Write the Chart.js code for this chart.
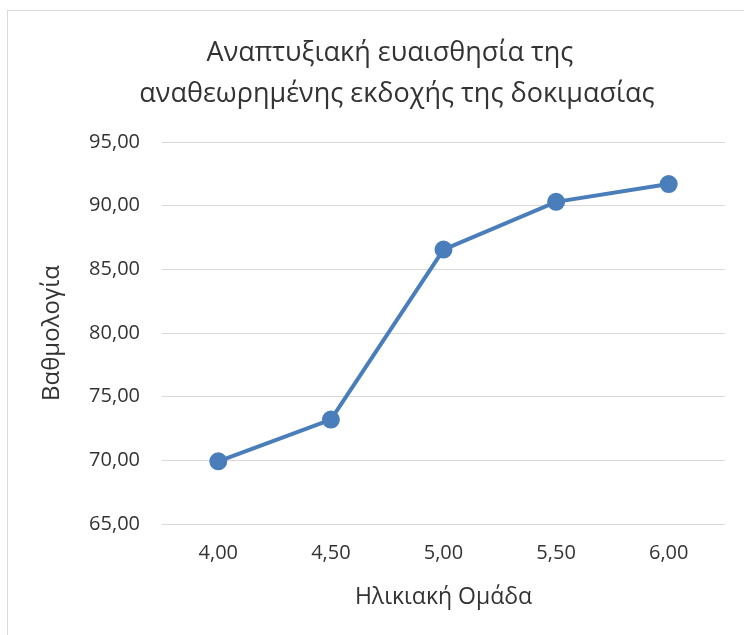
<!DOCTYPE html>
<html>
<head>
<meta charset="utf-8">
<script src="https://cdn.jsdelivr.net/npm/chart.js@4"></script>
<style>
  html, body { margin: 0; padding: 0; background: #fff; }
  #wrap { width: 744px; height: 635px; }
</style>
</head>
<body>
<div id="wrap"><canvas id="chart" width="744" height="635"></canvas></div>
<script>
const categories = ["4,00", "4,50", "5,00", "5,50", "6,00"];
const scores = [69.92, 73.2, 86.55, 90.3, 91.7];
const titleLines = ["Αναπτυξιακή ευαισθησία της", "αναθεωρημένης εκδοχής της δοκιμασίας"];
const xTitle = "Ηλικιακή Ομάδα";
const yTitle = "Βαθμολογία";

const FONT = "'Open Sans', 'Noto Sans', sans-serif";
const TEXT = "#333333";

// light frame + centred two line title, like the spreadsheet chart box
const framePlugin = {
  id: "frame",
  beforeDraw: (chart) => {
    const ctx = chart.ctx;
    ctx.save();
    ctx.fillStyle = "#fff";
    ctx.fillRect(0, 0, chart.width, chart.height);
    ctx.strokeStyle = "#d9d9d9";
    ctx.lineWidth = 1;
    ctx.strokeRect(7.5, 10.5, chart.width, chart.height);
    ctx.restore();
  },
  afterDraw: (chart) => {
    const ctx = chart.ctx;
    ctx.save();
    ctx.fillStyle = TEXT;
    ctx.font = "27px " + FONT;
    ctx.textAlign = "center";
    ctx.textBaseline = "alphabetic";
    ctx.fillText(titleLines[0], 390, 61);
    ctx.fillText(titleLines[1], 397, 102);
    ctx.restore();
  },
};

const ctx = document.getElementById("chart").getContext("2d");
new Chart(ctx, {
  type: "line",
  data: {
    labels: categories,
    datasets: [
      {
        data: scores,
        borderColor: "#4a7ebb",
        backgroundColor: "#4a7ebb",
        borderWidth: 4,
        pointRadius: 7,
        pointHoverRadius: 7,
        tension: 0,
      },
    ],
  },
  options: {
    responsive: false,
    animation: false,
    layout: { padding: { left: 0, right: 19, top: 142, bottom: 0 } },
    plugins: {
      legend: { display: false },
      tooltip: { enabled: false },
      title: { display: false },
    },
    scales: {
      x: {
        offset: true,
        grid: { display: false },
        border: { display: false },
        ticks: { color: TEXT, font: { family: FONT, size: 20 }, padding: 9 },
        title: {
          display: true,
          text: xTitle,
          color: TEXT,
          font: { family: FONT, size: 23 },
          padding: { top: 10, bottom: 24 },
        },
        afterFit: (scale) => { scale.height = 111; },
      },
      y: {
        min: 65,
        max: 95,
        grid: { color: "#d9d9d9", lineWidth: 1, drawTicks: false },
        border: { display: false },
        ticks: {
          stepSize: 5,
          color: TEXT,
          font: { family: FONT, size: 20 },
          padding: 22,
          callback: (v) => v.toFixed(2).replace(".", ","),
        },
        title: {
          display: true,
          text: yTitle,
          color: TEXT,
          font: { family: FONT, size: 24 },
          padding: { top: 38, bottom: 0 },
        },
        afterFit: (scale) => { scale.width = 162; },
      },
    },
  },
  plugins: [framePlugin],
});
</script>
</body>
</html>
